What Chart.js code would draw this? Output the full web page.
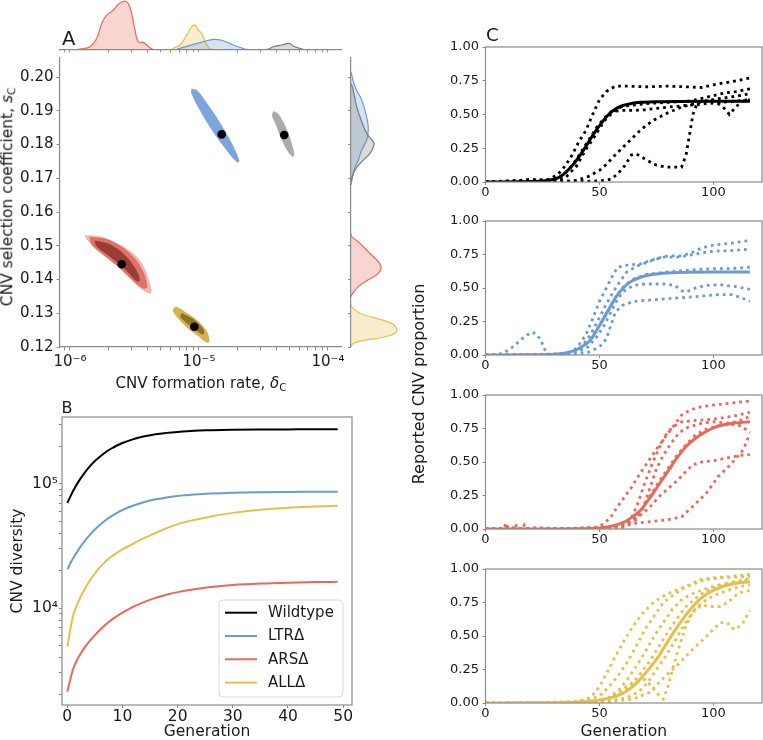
<!DOCTYPE html>
<html><head><meta charset="utf-8">
<script src="https://cdn.jsdelivr.net/npm/chart.js@4.4.1/dist/chart.umd.min.js"></script>
<style>
html,body{margin:0;padding:0;background:#fff;}
#fig{position:relative;width:763px;height:740px;overflow:hidden;font-family:'DejaVu Sans',sans-serif;color:#1a1a1a;}
#fig canvas{position:absolute;left:0;top:0;}
.t{position:absolute;white-space:nowrap;line-height:1;z-index:5;}
.rot{transform-origin:50% 50%;transform:rotate(-90deg);text-align:center;}
.t sub{font-size:0.7em;vertical-align:baseline;position:relative;top:0.28em;}
</style></head><body>
<div id="fig">
<canvas id="cA" width="763" height="740"></canvas>
<canvas id="cAtop" width="763" height="740"></canvas>
<canvas id="cAright" width="763" height="740"></canvas>
<canvas id="cB" width="763" height="740"></canvas>
<canvas id="cC1" width="763" height="740"></canvas>
<canvas id="cC2" width="763" height="740"></canvas>
<canvas id="cC3" width="763" height="740"></canvas>
<canvas id="cC4" width="763" height="740"></canvas>
<div class="t" style="left:62px;top:29px;font-size:19.6px">A</div>
<div class="t" style="left:61.5px;top:400px;font-size:16px">B</div>
<div class="t" style="left:486px;top:26.3px;font-size:18.3px">C</div>
<div class="t" style="left:51px;top:375.6px;width:300px;text-align:center;font-size:15px">CNV formation rate, <i>δ</i><sub>C</sub></div>
<div class="t rot" style="left:-132px;top:189.2px;width:280px;height:15.5px;font-size:15.5px">CNV selection coefficient, <i>s</i><sub>C</sub></div>
<div class="t rot" style="left:288.5px;top:375.5px;width:260px;height:16px;font-size:16px">Reported CNV proportion</div>
</div>
<script>
// ================= DATA =================
// ---- Panel A: posterior of (log10 CNV formation rate, selection coefficient) ----
const A_GENOTYPES = ['Wildtype', 'LTRΔ', 'ARSΔ', 'ALLΔ'];
const A_MAP_LOGD = [-4.339, -4.824, -5.599, -5.036];
const A_MAP_S = [0.1828, 0.1830, 0.1445, 0.1260];
// posterior region outlines [log10 delta, s]
const A_REGION_WT = [[-4.4225,0.18978],[-4.3876,0.18904],[-4.3411,0.18607],[-4.3023,0.18252],[-4.2791,0.17956],[-4.2636,0.17719],[-4.2713,0.17644],[-4.2946,0.17719],[-4.3333,0.17956],[-4.3682,0.18252],[-4.4031,0.18607],[-4.4302,0.18844],[-4.4225,0.18978]];
const A_REGION_LTR = [[-5.057,0.1964],[-5.018,0.1961],[-4.940,0.1922],[-4.837,0.1863],[-4.734,0.1793],[-4.690,0.1751],[-4.708,0.1749],[-4.785,0.1784],[-4.889,0.1838],[-4.992,0.1902],[-5.057,0.1952],[-5.057,0.1964]];
const A_REGION_ARS = [[-5.884,0.1530],[-5.767,0.1527],[-5.638,0.1507],[-5.509,0.1476],[-5.432,0.1438],[-5.385,0.1389],[-5.374,0.1361],[-5.405,0.1363],[-5.483,0.1384],[-5.560,0.1413],[-5.664,0.1453],[-5.767,0.1487],[-5.858,0.1515],[-5.884,0.1530]];
const A_MID_ARS = [[-5.845,0.15244],[-5.729,0.1520],[-5.612,0.14993],[-5.504,0.14637],[-5.434,0.14222],[-5.403,0.13778],[-5.434,0.13748],[-5.512,0.13985],[-5.612,0.14341],[-5.729,0.14696],[-5.829,0.15022],[-5.845,0.15244]];
const A_CORE_ARS = [[-5.806,0.1514],[-5.690,0.1503],[-5.574,0.1471],[-5.485,0.1425],[-5.462,0.1397],[-5.488,0.1397],[-5.574,0.1432],[-5.690,0.1469],[-5.791,0.1498],[-5.806,0.1514]];
const A_REGION_ALL = [[-5.194,0.1315],[-5.173,0.1318],[-5.095,0.1300],[-5.005,0.1275],[-4.940,0.1245],[-4.922,0.1216],[-4.946,0.1215],[-5.005,0.1233],[-5.083,0.1255],[-5.160,0.1285],[-5.199,0.1307],[-5.194,0.1315]];
const A_CORE_ALL = [[-5.132,0.1299],[-5.031,0.1278],[-4.965,0.1250],[-4.972,0.1238],[-5.047,0.1258],[-5.140,0.1288],[-5.132,0.1299]];
// top marginal densities [log10 delta, density]
const A_TOP_ARS = [[-5.94,0],[-5.922,0.3],[-5.845,2.6],[-5.793,11],[-5.754,26],[-5.716,34.3],[-5.664,39.3],[-5.626,45.3],[-5.579,48.3],[-5.548,46],[-5.522,36],[-5.496,19.3],[-5.471,7.6],[-5.432,7],[-5.405,4.3],[-5.374,1],[-5.354,0]];
const A_TOP_ALL = [[-5.21,0],[-5.199,1],[-5.147,4.3],[-5.095,14.3],[-5.057,22.6],[-5.031,24.3],[-5.005,19.3],[-4.979,16],[-4.953,7.6],[-4.92,1],[-4.9,0]];
const A_TOP_LTR = [[-5.17,0],[-5.147,1],[-5.044,5],[-4.967,7.6],[-4.889,10],[-4.812,8.6],[-4.734,4.3],[-4.643,0.3],[-4.62,0]];
const A_TOP_WT = [[-4.48,0],[-4.463,0.3],[-4.424,2.6],[-4.359,4.3],[-4.300,6],[-4.269,3.3],[-4.204,0.3],[-4.19,0]];
// right marginal densities [s, density]
const A_RIGHT_LTR = [[0.2015,0],[0.2006,0.7],[0.1971,4],[0.1932,10.7],[0.1882,15.7],[0.1848,17.3],[0.1813,15.7],[0.1784,10.7],[0.1754,7.3],[0.1724,3],[0.1690,0.7],[0.168,0]];
const A_RIGHT_WT = [[0.198,0],[0.1967,1.7],[0.1912,5.7],[0.1868,10.7],[0.1833,15.7],[0.1808,22.3],[0.1799,23],[0.1774,19],[0.1749,10.7],[0.1724,4],[0.1700,0.7],[0.169,0]];
const A_RIGHT_ARS = [[0.1535,0],[0.1527,0.7],[0.1507,9],[0.1482,17.3],[0.1458,25.7],[0.1438,30],[0.1418,27.3],[0.1399,17.3],[0.1379,7.3],[0.1359,1.7],[0.135,0]];
const A_RIGHT_ALL = [[0.1325,0],[0.1319,0.7],[0.1300,9],[0.1285,25.7],[0.1270,40.7],[0.1255,45.7],[0.1241,44],[0.1229,32.3],[0.1221,15.7],[0.1213,4],[0.1206,0.7],[0.12,0]];
const A_X_MAJOR = [1e-6, 1e-5, 1e-4];
const A_X_MAJOR_LABELS = ['10⁻⁶', '10⁻⁵', '10⁻⁴'];
const A_X_MINOR = [9e-7, 2e-6, 3e-6, 4e-6, 5e-6, 6e-6, 7e-6, 8e-6, 9e-6, 2e-5, 3e-5, 4e-5, 5e-5, 6e-5, 7e-5, 8e-5, 9e-5];
const A_Y_TICKS = [0.12, 0.13, 0.14, 0.15, 0.16, 0.17, 0.18, 0.19, 0.20];

// ---- Panel B: CNV diversity over generations ----
const B_GEN = [0, 1, 2, 3, 4, 5, 6, 7, 8, 9, 10, 12, 14, 16, 18, 20, 23, 26, 30, 35, 40, 45, 49];
const B_WT  = [70300, 86900, 104000, 120800, 137400, 153100, 167500, 181100, 193200, 204200, 213800, 230100, 242100, 251800, 258200, 263000, 268500, 271000, 273500, 274800, 275400, 276000, 276000];
const B_LTR = [20500, 24900, 29400, 34000, 38500, 43000, 47200, 51200, 55000, 58500, 61700, 67100, 71600, 75200, 77800, 80000, 82200, 83800, 85100, 85900, 86300, 86500, 86700];
const B_ARS = [2110, 3160, 3980, 4700, 5380, 6050, 6710, 7400, 8020, 8610, 9180, 10260, 11220, 12080, 12790, 13430, 14160, 14760, 15310, 15740, 16010, 16180, 16260];
const B_ALL = [4880, 8510, 11220, 13800, 16410, 18970, 21530, 23880, 26000, 27860, 29650, 33110, 36730, 40270, 43950, 47420, 51290, 54700, 58480, 61940, 64270, 65770, 66830];
const B_X_TICKS = [0, 10, 20, 30, 40, 50];
const B_Y_MAJOR = [1e4, 1e5];
const B_Y_MAJOR_LABELS = ['10⁴', '10⁵'];
const B_Y_MINOR = [2e3, 3e3, 4e3, 5e3, 6e3, 7e3, 8e3, 9e3, 2e4, 3e4, 4e4, 5e4, 6e4, 7e4, 8e4, 9e4, 2e5, 3e5];

// ---- Panel C: reported CNV proportion [generation, proportion] ----
const C1_MODEL = [[0,0],[15,0.001],[20,0.003],[25,0.007],[30,0.02],[33,0.04],[36,0.085],[39,0.14],[42,0.21],[45,0.29],[48,0.37],[51,0.44],[54,0.5],[57,0.54],[60,0.565],[64,0.582],[68,0.59],[75,0.595],[85,0.597],[100,0.598],[116,0.598]];
const C1_REPS = [
 [[0,0],[10,0.005],[20,0.01],[28,0.02],[32,0.06],[35,0.12],[38,0.2],[41,0.3],[44,0.38],[47,0.5],[50,0.61],[53,0.67],[57,0.71],[62,0.71],[70,0.705],[80,0.71],[88,0.705],[95,0.7],[100,0.72],[105,0.735],[110,0.75],[116,0.77]],
 [[0,0],[5,0.003],[10,0.01],[15,0.012],[20,0.02],[25,0.015],[30,0.02],[34,0.05],[37,0.1],[40,0.17],[43,0.25],[46,0.33],[49,0.41],[52,0.47],[55,0.52],[60,0.53],[65,0.53],[70,0.535],[75,0.545],[80,0.555],[90,0.57],[100,0.585],[110,0.6],[116,0.61]],
 [[0,0],[20,0],[30,0.005],[36,0.008],[40,0.012],[45,0.04],[50,0.086],[53,0.13],[56,0.185],[59,0.235],[62,0.285],[65,0.335],[68,0.385],[71,0.425],[74,0.46],[79,0.505],[86,0.555],[94,0.59],[101,0.615],[108,0.63],[116,0.655]],
 [[0,0],[30,0],[40,0.003],[45,0.005],[50,0.008],[55,0.02],[58,0.06],[61,0.12],[64,0.2],[66,0.21],[70,0.17],[74,0.13],[79,0.11],[86,0.11],[88,0.2],[89.5,0.35],[91,0.5],[93,0.59],[96,0.6],[100,0.6],[104,0.56],[107,0.5],[110,0.56],[113,0.6],[116,0.61]],
 [[0,0],[20,0.005],[30,0.01],[35,0.03],[40,0.12],[44,0.24],[48,0.34],[52,0.45],[56,0.52],[60,0.56],[70,0.58],[80,0.59],[90,0.6],[95,0.62],[100,0.64],[105,0.66],[110,0.67],[116,0.69]]
];
const C2_MODEL = [[0,0],[10,0],[20,0.001],[30,0.005],[35,0.015],[40,0.04],[43,0.07],[46,0.11],[49,0.19],[52,0.28],[55,0.37],[58,0.45],[61,0.51],[64,0.55],[68,0.58],[73,0.6],[80,0.612],[90,0.618],[100,0.62],[116,0.62]];
const C2_REPS = [
 [[0,0],[5,0.003],[8,0.015],[12,0.06],[16,0.12],[20,0.17],[22,0.16],[24,0.12],[26,0.04],[28,0.005],[32,0.005],[36,0.01],[40,0.05],[44,0.15],[47,0.27],[50,0.4],[53,0.5],[56,0.6],[58,0.655],[62,0.67],[68,0.68],[75,0.72],[80,0.74],[86,0.74],[90,0.76],[95,0.8],[100,0.82],[108,0.835],[116,0.855]],
 [[0,0],[20,0.005],[30,0.005],[38,0.02],[42,0.06],[46,0.15],[50,0.28],[53,0.38],[56,0.47],[59,0.55],[62,0.62],[66,0.66],[72,0.7],[78,0.73],[84,0.73],[88,0.74],[94,0.76],[100,0.775],[108,0.78],[116,0.79]],
 [[0,0],[20,0.003],[30,0.005],[36,0.01],[42,0.05],[46,0.12],[50,0.22],[54,0.33],[57,0.43],[60,0.5],[64,0.56],[70,0.6],[80,0.62],[90,0.635],[100,0.645],[108,0.645],[116,0.655]],
 [[0,0],[20,0.004],[34,0.008],[40,0.02],[45,0.06],[49,0.14],[52,0.22],[55,0.32],[58,0.42],[61,0.48],[65,0.52],[70,0.53],[78,0.53],[83,0.52],[86,0.48],[88,0.47],[92,0.5],[97,0.52],[103,0.525],[110,0.51],[116,0.49]],
 [[0,0],[30,0.003],[40,0.01],[45,0.02],[50,0.06],[53,0.12],[55,0.22],[57,0.32],[60,0.37],[65,0.4],[72,0.41],[80,0.42],[88,0.43],[95,0.44],[102,0.45],[108,0.45],[112,0.43],[116,0.4]]
];
const C3_MODEL = [[0,0],[20,0],[40,0.002],[50,0.008],[55,0.02],[60,0.045],[64,0.085],[68,0.14],[72,0.23],[76,0.33],[80,0.43],[84,0.53],[88,0.615],[92,0.675],[96,0.72],[100,0.755],[105,0.78],[110,0.792],[116,0.8]];
const C3_REPS = [
 [[0,0],[20,0],[40,0.005],[48,0.01],[52,0.04],[55,0.09],[58,0.17],[61,0.24],[64,0.31],[68,0.42],[72,0.52],[76,0.62],[79,0.69],[83,0.78],[86,0.85],[90,0.89],[94,0.91],[100,0.925],[108,0.94],[116,0.955]],
 [[0,0],[12,0],[13,0.04],[14,0],[30,0],[45,0.005],[55,0.01],[60,0.03],[64,0.08],[67,0.2],[70,0.35],[73,0.48],[76,0.6],[79,0.7],[82,0.76],[86,0.8],[92,0.81],[100,0.82],[108,0.84],[116,0.87]],
 [[0,0],[30,0.002],[50,0.01],[60,0.02],[66,0.07],[69,0.15],[72,0.3],[75,0.45],[78,0.55],[81,0.63],[85,0.72],[89,0.76],[95,0.79],[100,0.8],[106,0.79],[110,0.8],[116,0.84]],
 [[0,0],[40,0.003],[55,0.01],[62,0.04],[66,0.1],[69,0.16],[72,0.24],[76,0.35],[80,0.45],[84,0.55],[88,0.63],[92,0.7],[96,0.74],[102,0.77],[108,0.78],[112,0.77],[116,0.72]],
 [[0,0],[8,0],[9,0.045],[10,0],[16,0],[17,0.03],[18,0],[20,0.01],[30,0.005],[40,0.005],[50,0.01],[56,0.02],[62,0.04],[66,0.08],[70,0.13],[73,0.18],[76,0.24],[80,0.3],[84,0.36],[88,0.43],[91,0.48],[95,0.5],[100,0.51],[106,0.53],[112,0.55],[116,0.555]],
 [[0,0],[30,0],[50,0.005],[60,0.01],[64,0.04],[70,0.05],[75,0.06],[80,0.07],[86,0.09],[91,0.17],[97,0.27],[102,0.39],[108,0.49],[113,0.59],[116,0.71]]
];
const C4_MODEL = [[0,0],[20,0.001],[35,0.004],[45,0.012],[50,0.022],[55,0.04],[60,0.07],[64,0.115],[68,0.18],[72,0.26],[76,0.35],[80,0.46],[84,0.565],[88,0.66],[92,0.74],[96,0.8],[100,0.84],[105,0.875],[110,0.893],[116,0.905]];
const C4_REPS = [
 [[0,0],[20,0.003],[40,0.01],[46,0.04],[50,0.12],[54,0.25],[57,0.35],[61,0.47],[65,0.58],[69,0.67],[73,0.74],[77,0.79],[82,0.83],[88,0.87],[94,0.92],[100,0.935],[108,0.945],[116,0.96]],
 [[0,0],[20,0.002],[40,0.01],[50,0.05],[54,0.12],[58,0.2],[62,0.3],[66,0.42],[70,0.55],[74,0.65],[78,0.75],[82,0.8],[86,0.85],[90,0.88],[96,0.92],[104,0.935],[110,0.94],[116,0.945]],
 [[0,0],[30,0.003],[48,0.01],[54,0.04],[58,0.09],[62,0.17],[66,0.27],[70,0.38],[74,0.5],[78,0.6],[82,0.7],[86,0.77],[90,0.81],[96,0.85],[102,0.88],[110,0.9],[116,0.92]],
 [[0,0],[30,0.002],[45,0.008],[52,0.02],[56,0.05],[60,0.1],[63,0.14],[67,0.16],[70,0.175],[73,0.12],[76,0.06],[78,0.03],[80,0.12],[82,0.25],[85,0.42],[88,0.58],[91,0.68],[95,0.75],[100,0.8],[106,0.84],[112,0.87],[116,0.88]],
 [[0,0],[40,0.005],[55,0.015],[62,0.04],[67,0.08],[71,0.15],[75,0.25],[79,0.35],[83,0.46],[87,0.58],[91,0.68],[95,0.73],[99,0.72],[103,0.72],[107,0.76],[111,0.82],[116,0.84]],
 [[0,0],[40,0.003],[55,0.01],[65,0.03],[72,0.08],[76,0.15],[80,0.22],[84,0.28],[88,0.35],[92,0.42],[96,0.48],[100,0.55],[103,0.6],[106,0.6],[108,0.56],[110,0.55],[113,0.6],[116,0.69]],
 [[0,0],[40,0.005],[50,0.015],[56,0.04],[60,0.08],[64,0.14],[68,0.22],[72,0.31],[76,0.42],[80,0.53],[84,0.63],[88,0.72],[92,0.78],[96,0.83],[102,0.87],[108,0.9],[116,0.93]]
];
const C_X_TICKS = [0, 50, 100];
const C_Y_TICKS = [0, 0.25, 0.5, 0.75, 1];

// ================= STYLE / LAYOUT =================
const W = 763, H = 740;
const SPINE = '#8a8a8a';
const TXT = '#1a1a1a';
const COL_WT = '#000000', COL_LTR = '#6b9bd3', COL_ARS = '#e8695a', COL_ALL = '#e5bf4c';
Chart.defaults.font.family = "'DejaVu Sans', sans-serif";
Chart.defaults.color = TXT;
Chart.defaults.animation = false;
Chart.defaults.responsive = false;
Chart.defaults.devicePixelRatio = 1;
Chart.defaults.events = [];
Chart.defaults.plugins.legend.display = false;
Chart.defaults.plugins.tooltip.enabled = false;

function pad(L, T, R, B, yw, xh) { return {padding: {left: L - yw, top: T, right: W - R, bottom: H - B - xh}}; }
const fixW = w => s => { s.width = w; };
const fixH = h => s => { s.height = h; };
const setTicks = vals => s => { s.ticks = vals.map(v => ({value: v})); };
const tickGrid = len => ({display: true, drawOnChartArea: false, drawTicks: true, tickLength: len, tickColor: SPINE, tickWidth: 1});
const labelFrom = (vals, labels) => v => { const i = vals.indexOf(v); return i >= 0 ? labels[i] : ''; };
const toLogXY = arr => arr.map(p => ({x: Math.pow(10, p[0]), y: p[1]}));
const toXY = arr => arr.map(p => ({x: p[0], y: p[1]}));
const toYX = arr => arr.map(p => ({x: p[1], y: p[0]}));

const framePlugin = {id: 'frame', afterDatasetsDraw(chart) {
  const {ctx, chartArea: a} = chart;
  ctx.save(); ctx.strokeStyle = SPINE; ctx.lineWidth = 1.2;
  ctx.strokeRect(a.left, a.top, a.right - a.left, a.bottom - a.top); ctx.restore();
}};

const A_XMIN = Math.pow(10, -6.0775), A_XMAX = Math.pow(10, -3.899);
const A_YMIN = 0.12, A_YMAX = 0.20563;
const A_X_ALL_TICKS = A_X_MINOR.concat(A_X_MAJOR).sort((a, b) => a - b);

// order: higher values are drawn first (underneath)
function region(poly, color, order) {
  return {data: toLogXY(poly), showLine: true, fill: 'shape', backgroundColor: color, borderColor: color, borderWidth: 0.8, tension: 0.35, pointRadius: 0, order};
}

// ---- Panel A main ----
new Chart(document.getElementById('cA'), {
  type: 'scatter',
  data: {datasets: [
    region(A_REGION_ARS, 'rgba(234,140,128,0.6)', 10),
    region(A_MID_ARS, 'rgba(214,92,80,0.75)', 9),
    region(A_CORE_ARS, 'rgba(140,48,40,0.8)', 8),
    region(A_REGION_ALL, 'rgba(210,174,60,0.92)', 10),
    region(A_CORE_ALL, 'rgba(125,98,25,0.8)', 8),
    region(A_REGION_LTR, 'rgba(118,160,218,0.95)', 10),
    region(A_REGION_WT, 'rgba(165,165,165,0.95)', 10),
    {label: 'MAP', data: A_MAP_LOGD.map((d, i) => ({x: Math.pow(10, d), y: A_MAP_S[i]})), pointRadius: 4.3, pointBackgroundColor: '#000', pointBorderWidth: 0, order: 0}
  ]},
  options: {
    layout: pad(60, 58, 341, 347, 60, 30),
    scales: {
      x: {type: 'logarithmic', min: A_XMIN, max: A_XMAX, afterBuildTicks: setTicks(A_X_ALL_TICKS), afterFit: fixH(30),
          ticks: {autoSkip: false, maxRotation: 0, padding: 4, font: {size: 15, lineHeight: 1}, callback: labelFrom(A_X_MAJOR, A_X_MAJOR_LABELS)},
          grid: tickGrid(3.5), border: {display: true, color: SPINE, width: 1.2}},
      y: {type: 'linear', min: A_YMIN, max: A_YMAX, afterBuildTicks: setTicks(A_Y_TICKS), afterFit: fixW(60),
          ticks: {autoSkip: false, padding: 3, font: {size: 15, lineHeight: 1}, callback: v => v.toFixed(2)},
          grid: tickGrid(3.5), border: {display: true, color: SPINE, width: 1.2}}
    }
  }
});

function kde(data, color, fillColor, fill, order) {
  return {data, showLine: true, fill, backgroundColor: fillColor, borderColor: color, borderWidth: 1.2, tension: 0.4, pointRadius: 0, order};
}
// ---- Panel A top marginal ----
new Chart(document.getElementById('cAtop'), {
  type: 'scatter',
  data: {datasets: [
    kde(toLogXY(A_TOP_ARS), COL_ARS, 'rgba(232,105,90,0.28)', 'origin', 4),
    kde(toLogXY(A_TOP_ALL), COL_ALL, 'rgba(229,191,76,0.28)', 'origin', 3),
    kde(toLogXY(A_TOP_LTR), COL_LTR, 'rgba(107,155,211,0.28)', 'origin', 2),
    kde(toLogXY(A_TOP_WT), '#7a7a7a', 'rgba(128,128,128,0.28)', 'origin', 1)
  ]},
  options: {
    layout: pad(60, 0, 341, 49.3, 0, 4),
    scales: {
      x: {type: 'logarithmic', min: A_XMIN, max: A_XMAX, afterBuildTicks: setTicks(A_X_ALL_TICKS), afterFit: fixH(4),
          ticks: {display: false, autoSkip: false}, grid: tickGrid(3), border: {display: true, color: SPINE, width: 1.2}},
      y: {display: false, min: 0, max: 49.5}
    }
  }
});

// ---- Panel A right marginal ----
new Chart(document.getElementById('cAright'), {
  type: 'scatter',
  data: {datasets: [
    kde(toYX(A_RIGHT_LTR), COL_LTR, 'rgba(107,155,211,0.28)', 'shape', 4),
    kde(toYX(A_RIGHT_WT), '#7a7a7a', 'rgba(128,128,128,0.28)', 'shape', 3),
    kde(toYX(A_RIGHT_ARS), COL_ARS, 'rgba(232,105,90,0.28)', 'shape', 2),
    kde(toYX(A_RIGHT_ALL), COL_ALL, 'rgba(229,191,76,0.28)', 'shape', 1)
  ]},
  options: {
    layout: pad(351, 58, 401, 347, 4, 0),
    scales: {
      x: {display: false, min: 0, max: 50},
      y: {type: 'linear', min: A_YMIN, max: A_YMAX, afterBuildTicks: setTicks(A_Y_TICKS), afterFit: fixW(4),
          ticks: {display: false}, grid: tickGrid(3), border: {display: true, color: SPINE, width: 1.2}}
    }
  }
});

// ---- Panel B ----
const bLegend = {id: 'bLegend', afterDraw(chart) {
  const {ctx, chartArea: a} = chart;
  const w = 124, h = 97, x0 = a.right - 9 - w, y0 = a.bottom - 8 - h;
  ctx.save();
  ctx.beginPath(); ctx.roundRect(x0, y0, w, h, 4);
  ctx.fillStyle = 'rgba(255,255,255,0.85)'; ctx.fill();
  ctx.strokeStyle = '#d9d9d9'; ctx.lineWidth = 1; ctx.stroke();
  ctx.font = "15px 'DejaVu Sans'"; ctx.textBaseline = 'middle'; ctx.textAlign = 'left';
  chart.data.datasets.forEach((ds, i) => {
    const yy = y0 + 12.7 + i * 23.3;
    ctx.strokeStyle = ds.borderColor; ctx.lineWidth = 2;
    ctx.beginPath(); ctx.moveTo(x0 + 6, yy); ctx.lineTo(x0 + 38, yy); ctx.stroke();
    ctx.fillStyle = TXT; ctx.fillText(ds.label, x0 + 49, yy + 0.5);
  });
  ctx.restore();
}};
function bLine(label, vals, color) {
  return {label, data: B_GEN.map((g, i) => ({x: g, y: vals[i]})), showLine: true, borderColor: color, backgroundColor: color, borderWidth: 2, pointRadius: 0, cubicInterpolationMode: 'monotone'};
}
new Chart(document.getElementById('cB'), {
  type: 'scatter',
  data: {datasets: [
    bLine(A_GENOTYPES[0], B_WT, COL_WT),
    bLine(A_GENOTYPES[1], B_LTR, COL_LTR),
    bLine(A_GENOTYPES[2], B_ARS, COL_ARS),
    bLine(A_GENOTYPES[3], B_ALL, COL_ALL)
  ]},
  options: {
    layout: pad(62, 417, 352, 705, 52, 35),
    scales: {
      x: {type: 'linear', min: -0.96, max: 51.6, afterBuildTicks: setTicks(B_X_TICKS), afterFit: fixH(35),
          ticks: {autoSkip: false, maxRotation: 0, padding: 1, font: {size: 15.5, lineHeight: 1}},
          grid: tickGrid(3), border: {display: false},
          title: {display: true, text: 'Generation', padding: 0, font: {size: 15.5, lineHeight: 1}}},
      y: {type: 'logarithmic', min: 1652, max: 346700, afterBuildTicks: setTicks(B_Y_MINOR.concat(B_Y_MAJOR).sort((a, b) => a - b)), afterFit: fixW(52),
          ticks: {autoSkip: false, padding: 1, font: {size: 15.5, lineHeight: 1}, callback: labelFrom(B_Y_MAJOR, B_Y_MAJOR_LABELS)},
          grid: tickGrid(3), border: {display: false},
          title: {display: true, text: 'CNV diversity', padding: 0, font: {size: 15.5, lineHeight: 1}}}
    }
  },
  plugins: [framePlugin, bLegend]
});

// ---- Panel C ----
function cChart(id, top, bottom, model, reps, color, showTitle) {
  const xh = showTitle ? 37 : 20;
  const datasets = reps.map(r => ({data: toXY(r), showLine: true, borderColor: color, borderWidth: 2.8, borderDash: [2.8, 4], borderCapStyle: 'butt', pointRadius: 0, tension: 0, order: 1}));
  datasets.push({data: toXY(model), showLine: true, borderColor: color, borderWidth: 3, pointRadius: 0, cubicInterpolationMode: 'monotone', order: 2});
  new Chart(document.getElementById(id), {
    type: 'scatter',
    data: {datasets},
    options: {
      layout: pad(485.5, top, 762, bottom, 40, xh),
      scales: {
        x: {type: 'linear', min: 0, max: 121.3, afterBuildTicks: setTicks(C_X_TICKS), afterFit: fixH(xh),
            ticks: {autoSkip: false, maxRotation: 0, padding: 1.5, font: {size: 13, lineHeight: 1}},
            grid: tickGrid(3), border: {display: false},
            title: {display: showTitle, text: 'Generation', padding: 0, font: {size: 15.5, lineHeight: 1}}},
        y: {type: 'linear', min: 0, max: 1, afterBuildTicks: setTicks(C_Y_TICKS), afterFit: fixW(40),
            ticks: {autoSkip: false, padding: 3.5, font: {size: 13, lineHeight: 1}, callback: v => v.toFixed(2)},
            grid: tickGrid(3), border: {display: false}}
      }
    },
    plugins: [framePlugin]
  });
}
cChart('cC1', 47, 182, C1_MODEL, C1_REPS, COL_WT, false);
cChart('cC2', 221, 355, C2_MODEL, C2_REPS, COL_LTR, false);
cChart('cC3', 395, 529, C3_MODEL, C3_REPS, COL_ARS, false);
cChart('cC4', 569, 703, C4_MODEL, C4_REPS, COL_ALL, true);
</script>
</body></html>
